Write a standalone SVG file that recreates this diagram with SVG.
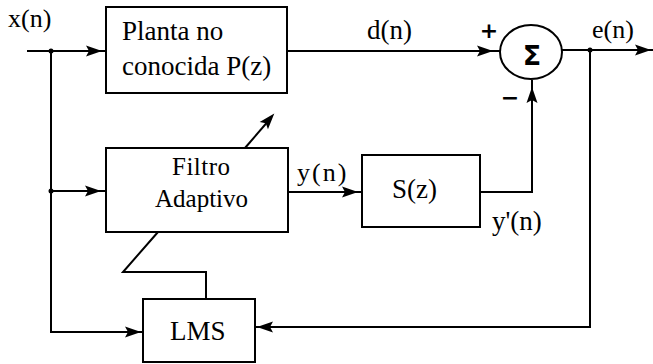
<svg xmlns="http://www.w3.org/2000/svg" xmlns:xlink="http://www.w3.org/1999/xlink" width="653" height="364" viewBox="0 0 653 364">
  <style>
    .box { fill: #fff; stroke: #000; stroke-width: 2; }
    .ln { fill: none; stroke: #000; stroke-width: 2; stroke-linejoin: miter; }
    .dot { fill: #000; }
  </style>
  <defs>
    <path id="ah" d="M2,0 L-14,-5.5 L-11,0 L-14,5.5 Z" fill="#000"/>
  </defs>
  <rect width="653" height="364" fill="#fff"/>

  <g id="connectors">
    <path class="ln" d="M27,51 L106,51"/>
    <use xlink:href="#ah" transform="translate(100,51)"/>
    <path class="ln" d="M51,51 L51,332 L143,332"/>
    <circle class="dot" cx="51" cy="51" r="2.5"/>
    <use xlink:href="#ah" transform="translate(139,332)"/>
    <path class="ln" d="M51,191 L106,191"/>
    <circle class="dot" cx="51" cy="191" r="2.5"/>
    <use xlink:href="#ah" transform="translate(99,191)"/>
    <path class="ln" d="M287,51 L500,51"/>
    <use xlink:href="#ah" transform="translate(491,51)"/>
    <path class="ln" d="M562,50 L653,50"/>
    <circle class="dot" cx="590" cy="50" r="2.5"/>
    <use xlink:href="#ah" transform="translate(649,50)"/>
    <path class="ln" d="M590,50 L590,327 L255,327"/>
    <use xlink:href="#ah" transform="translate(259,327) rotate(180)"/>
    <path class="ln" d="M288,192 L362,192"/>
    <use xlink:href="#ah" transform="translate(356,192)"/>
    <path class="ln" d="M480,192 L532,192 L532,80"/>
    <use xlink:href="#ah" transform="translate(532,89) rotate(-90)"/>
    <path class="ln" d="M245,148 L270,119"/>
    <use xlink:href="#ah" transform="translate(273,115) rotate(-49)"/>
    <path class="ln" d="M206,299 L206,272 L123,272 L158,232"/>
  </g>

  <g font-family="Liberation Serif" font-size="27">
    <g id="planta">
      <rect class="box" x="106" y="7" width="181" height="86"/>
      <text x="122" y="40">Planta no</text>
      <text x="122" y="75">conocida P(z)</text>
    </g>

    <g id="filtro">
      <rect class="box" x="106" y="148" width="182" height="84"/>
      <text x="172" y="175" font-size="25" letter-spacing="0.5">Filtro</text>
      <text x="155" y="207" font-size="25">Adaptivo</text>
    </g>

    <g id="sz">
      <rect class="box" x="362" y="155" width="118" height="72"/>
      <text x="392" y="198">S(z)</text>
    </g>

    <g id="lms">
      <rect class="box" x="143" y="299" width="112" height="63"/>
      <text x="170" y="340">LMS</text>
    </g>

    <g id="labels">
      <text x="8" y="27" font-size="26">x(n)</text>
      <text x="367" y="39">d(n)</text>
      <text x="592" y="38" font-size="26">e(n)</text>
      <text x="297" y="181" font-size="26" letter-spacing="2">y(n)</text>
      <text x="492" y="230">y'(n)</text>
    </g>
  </g>

  <g id="sum" font-family="DejaVu Sans" font-weight="bold">
    <ellipse cx="531" cy="52" rx="31" ry="27" fill="#fff" stroke="#000" stroke-width="2"/>
    <text x="532" y="65" font-size="27" text-anchor="middle">Σ</text>
    <text x="489" y="38" font-size="22" text-anchor="middle">+</text>
    <text x="510" y="105" font-size="22" text-anchor="middle">−</text>
  </g>
</svg>
